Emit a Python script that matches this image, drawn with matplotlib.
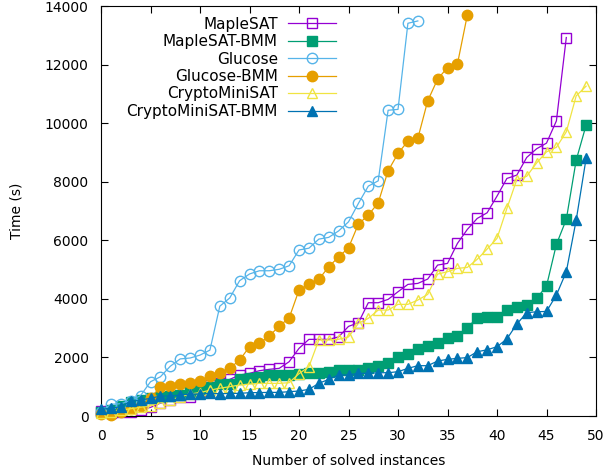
import numpy as np
import matplotlib
matplotlib.use('Agg')
import matplotlib.pyplot as plt

#---------------DATA--------------------------------------------------------------------
# time (s) needed to solve the n-th instance, one list per solver
maplesat = [170, 100, 120, 150, 205, 295, 440, 550, 640, 660, 830, 1058, 1115, 1250, 1400,
            1457, 1547, 1594, 1628, 1853, 2310, 2617, 2617, 2617, 2700, 3060, 3185, 3868,
            3868, 3982, 4243, 4494, 4528, 4676, 5154, 5211, 5893, 6370, 6746, 6939, 7508,
            8112, 8225, 8829, 9125, 9318, 10078, 12924]
maplesat_bmm = [150, 205, 350, 490, 546, 603, 660, 694, 717, 830, 910, 978, 1080, 1092,
                1251, 1308, 1342, 1400, 1400, 1400, 1433, 1457, 1480, 1516, 1560, 1560,
                1560, 1627, 1707, 1820, 2025, 2116, 2275, 2389, 2480, 2650, 2736, 3015,
                3356, 3390, 3390, 3618, 3710, 3788, 4016, 4437, 5860, 6713, 8737, 9932]
glucose = [150, 400, 420, 520, 700, 1170, 1340, 1700, 1950, 1980, 2080, 2250, 3750, 4030,
           4620, 4850, 4960, 4960, 5010, 5130, 5670, 5730, 6040, 6100, 6320, 6630, 7260,
           7850, 8030, 10440, 10470, 13410, 13490]
glucose_bmm = [70, 30, 150, 250, 350, 600, 1000, 1024, 1092, 1126, 1205, 1365, 1478, 1627,
               1911, 2366, 2480, 2730, 3072, 3345, 4300, 4494, 4665, 5096, 5430, 5745, 6553,
               6860, 7280, 8373, 8965, 9386, 9477, 10761, 11502, 11900, 12014, 13686]
cryptominisat = [100, 150, 200, 250, 300, 350, 450, 550, 650, 750, 800, 880, 950, 1000,
                 1058, 1092, 1115, 1115, 1115, 1137, 1445, 1684, 2594, 2594, 2620, 2700,
                 3163, 3334, 3618, 3618, 3812, 3812, 3959, 4152, 4846, 4926, 5040, 5074,
                 5350, 5700, 6064, 7088, 8070, 8185, 8640, 9020, 9175, 9703, 10932, 11263]
cryptominisat_bmm = [230, 262, 319, 500, 546, 603, 683, 683, 717, 751, 751, 773, 760, 773,
                     773, 796, 800, 806, 806, 830, 853, 910, 1115, 1251, 1400, 1400, 1457,
                     1457, 1478, 1478, 1513, 1627, 1718, 1718, 1877, 1935, 1968, 1995, 2195,
                     2260, 2366, 2630, 3140, 3526, 3560, 3570, 4130, 4926, 6690, 8795]

nombres = ['MapleSAT', 'MapleSAT-BMM', 'Glucose', 'Glucose-BMM', 'CryptoMiniSAT', 'CryptoMiniSAT-BMM']
series = [maplesat, maplesat_bmm, glucose, glucose_bmm, cryptominisat, cryptominisat_bmm]
colores = ['#9400d3', '#009e73', '#56b4e9', '#e69f00', '#f0e442', '#0072b2']
marcas = ['s', 's', 'o', 'o', '^', '^']
llenos = [False, True, False, True, False, True]
tamanos = [7.5, 6.5, 7.5, 7.5, 7, 7]

#---------------BEGIN PLOT--------------------------------------------------------------
plt.rcParams['font.family'] = 'DejaVu Sans'
plt.rcParams['font.size'] = 10

fig = plt.figure(figsize=(6.06, 4.73), dpi=100)
ax = fig.add_axes([0.1667, 0.1205, 0.8168, 0.8668])

for i in range(len(series)):
    x = np.arange(len(series[i]))
    ax.plot(x, series[i], color=colores[i], lw=0.9, marker=marcas[i], ms=tamanos[i],
            mfc=colores[i] if llenos[i] else 'none', mec=colores[i], mew=1.0,
            label=nombres[i], clip_on=False, zorder=2 + i)

ax.set_xlim(0, 50)
ax.set_ylim(0, 14000)
ax.set_xticks(range(0, 51, 5))
ax.set_yticks(range(0, 14001, 2000))
ax.tick_params(direction='in', length=5, top=True, right=True, width=0.8, labelsize=10, pad=9)
ax.set_xlabel('Number of solved instances', labelpad=8)
ax.set_ylabel('Time (s)', labelpad=15)

leg = ax.legend(loc='upper right', bbox_to_anchor=(0.496, 1.0), frameon=False,
                markerfirst=False, handlelength=3.1, handletextpad=0.7,
                labelspacing=0.16, borderaxespad=0.3, fontsize=11)

plt.savefig('out.png', dpi=100)
